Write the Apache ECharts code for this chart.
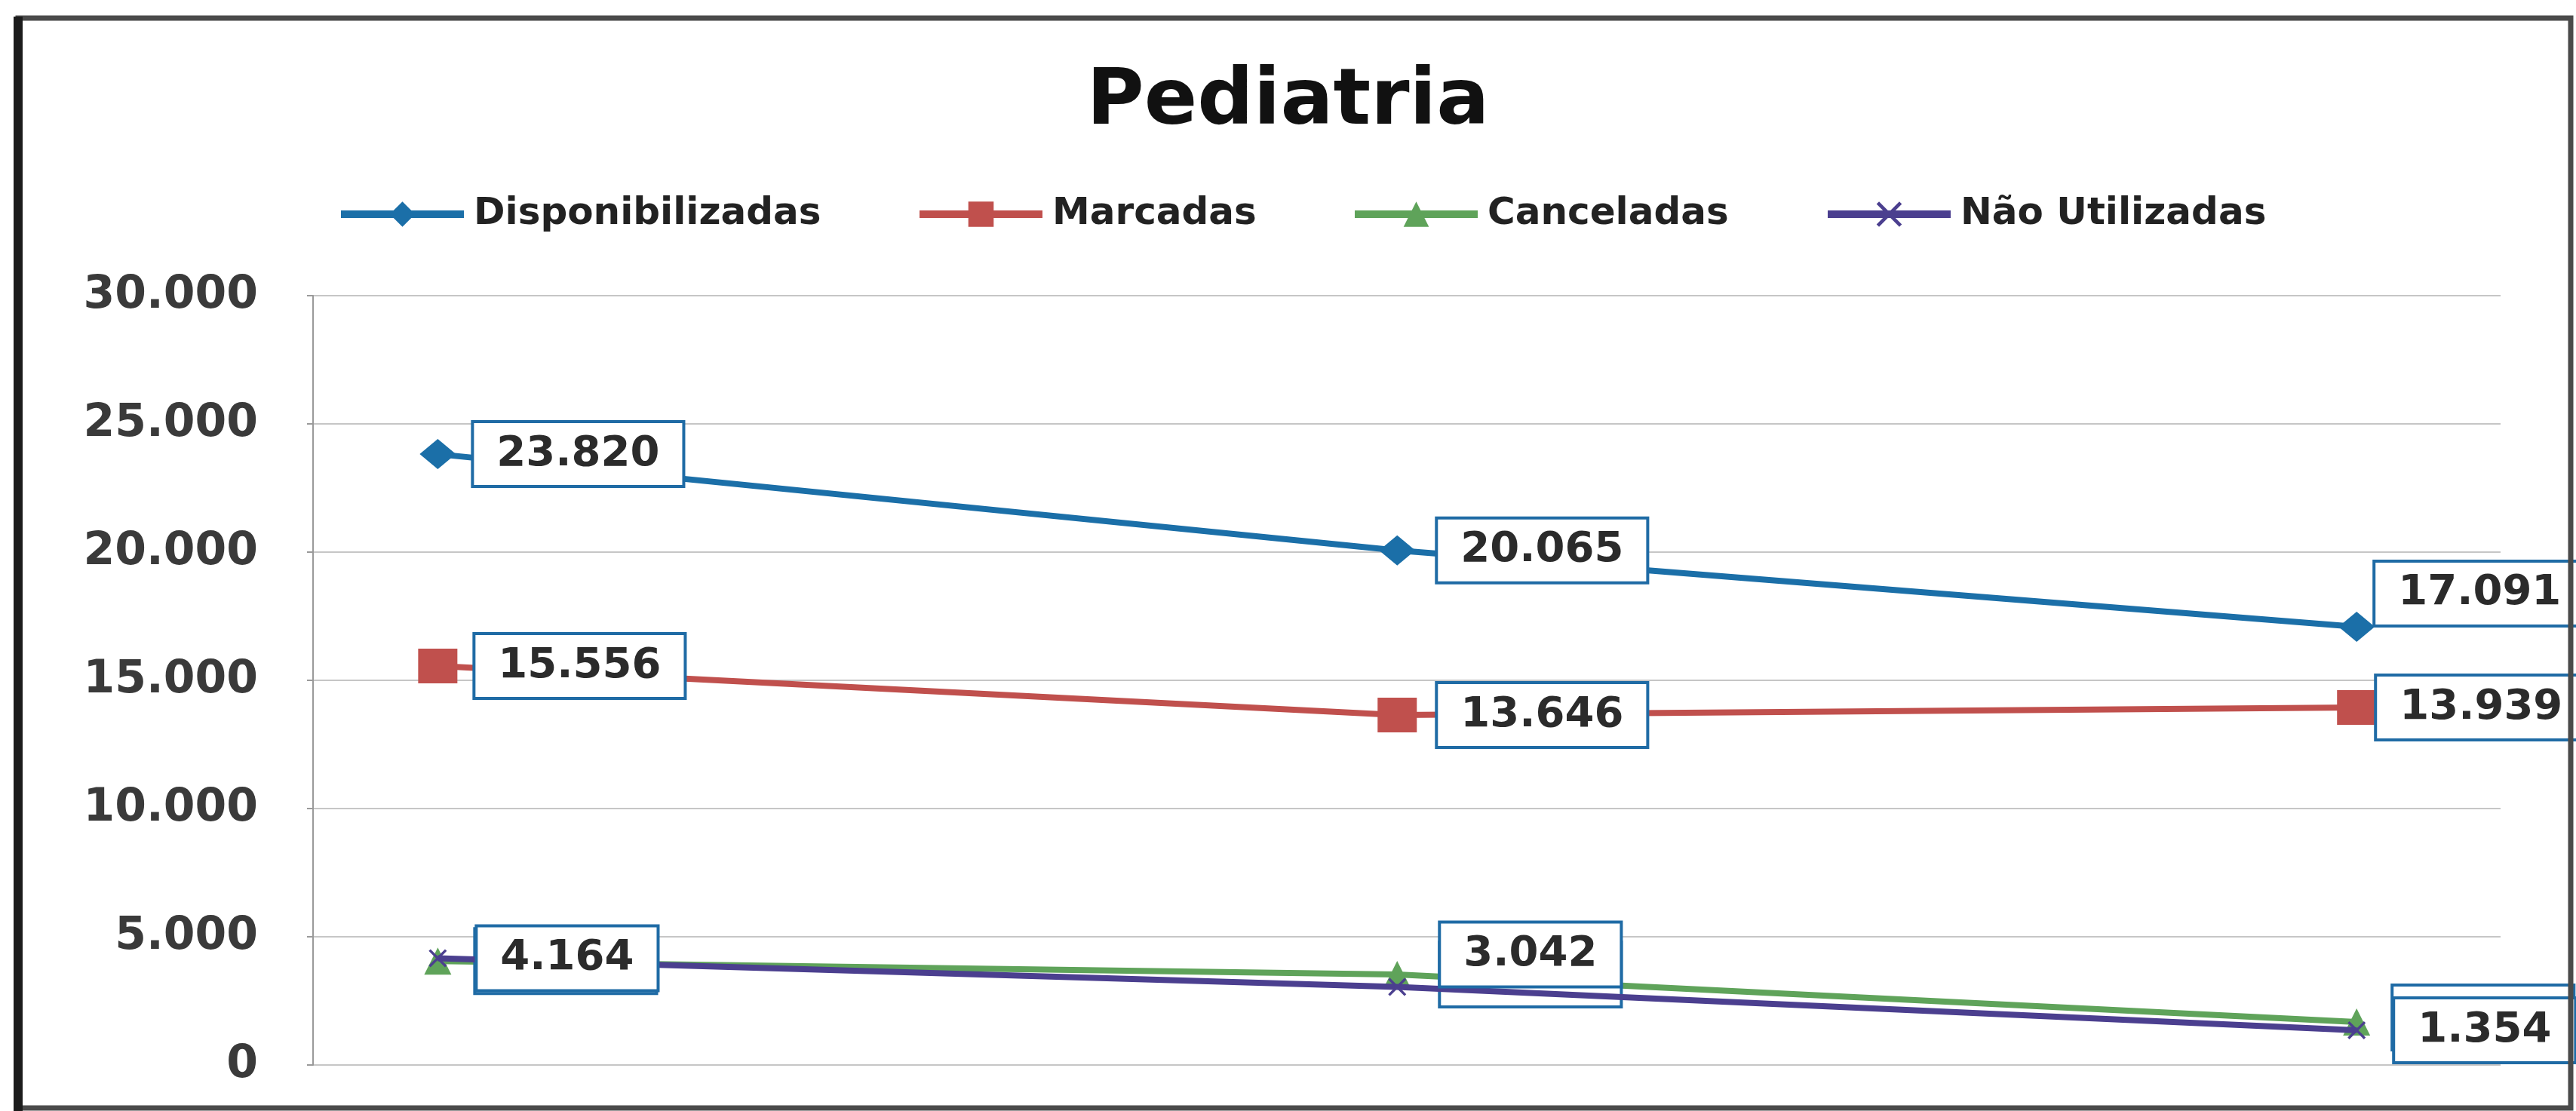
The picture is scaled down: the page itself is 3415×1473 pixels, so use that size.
<!DOCTYPE html>
<html>
<head>
<meta charset="utf-8">
<title>Pediatria</title>
<script src="https://cdn.jsdelivr.net/npm/echarts@6/dist/echarts.min.js"></script>
<style>
  html, body { margin: 0; padding: 0; background: #ffffff; }
  #chart { width: 3415px; height: 1473px; }
</style>
</head>
<body>
<div id="chart"></div>
<script>
// Three consecutive periods, placed on a numeric x scale
const periodos = [0, 1, 2];

// Consultas de pediatria por situação
const disponibilizadas = [23820, 20065, 17091];
const marcadas = [15556, 13646, 13939];
const canceladas = [4050, 3530, 1680];
const naoUtilizadas = [4164, 3042, 1354];

const nomesSeries = ['Disponibilizadas', 'Marcadas', 'Canceladas', 'Não Utilizadas'];
const yTickLabels = ['0', '5.000', '10.000', '15.000', '20.000', '25.000', '30.000'];

// Brazilian thousands separator
function fmt(v) {
  return String(Math.round(v)).replace(/\B(?=(\d{3})+(?!\d))/g, '.');
}

const FONT = 'DejaVu Sans';
const cores = ['#1B6FA8', '#C0504D', '#5FA35A', '#4B3F8F'];

// Callout placement for each point: [distance from symbol, vertical offset]
const calloutDisp = [[24, 0], [30, 0], [1, -44]];
const calloutMarc = [[24, 0], [28, 0], [1, 0]];
const calloutCanc = [[33, 0], [40, 0], [31, -6]];
const calloutNaoU = [[41, 0], [46, -43], [39, 0]];

const labelBase = {
  show: true,
  position: 'right',
  formatter: p => fmt(p.value[1]),
  fontFamily: FONT,
  fontSize: 56,
  fontWeight: 'bold',
  lineHeight: 60,
  color: '#2b2b2b',
  backgroundColor: '#ffffff',
  borderColor: '#1F6BA5',
  borderWidth: 4,
  padding: [11, 30, 11, 30]
};

function pontos(valores, callouts) {
  return valores.map((v, i) => ({
    value: [periodos[i], v],
    label: { distance: callouts[i][0], offset: [0, callouts[i][1]] }
  }));
}

// Small "x" cross used as the marker of the fourth series
const xMarker = 'path://M0,2 L2,0 L10,8 L18,0 L20,2 L12,10 L20,18 L18,20 L10,12 L2,20 L0,18 L8,10 Z';

const simbolos = ['diamond', 'rect', 'triangle', xMarker];
const tamanhos = [[48, 40], [52, 46], [36, 36], [24, 24]];
const valoresSeries = [disponibilizadas, marcadas, canceladas, naoUtilizadas];
const callouts = [calloutDisp, calloutMarc, calloutCanc, calloutNaoU];

const series = nomesSeries.map((nome, s) => ({
  name: nome,
  type: 'line',
  data: pontos(valoresSeries[s], callouts[s]),
  symbol: simbolos[s],
  symbolSize: tamanhos[s],
  showAllSymbol: true,
  lineStyle: { color: cores[s], width: 8 },
  itemStyle: { color: cores[s] },
  label: labelBase,
  emphasis: { disabled: true },
  animation: false,
  z: 2 + s
}));

// One legend block per series so each entry sits at its own spot
const legendLeft = [442, 1209, 1786, 2413];
const legends = nomesSeries.map((nome, s) => ({
  data: [{ name: nome, itemStyle: { color: cores[s] } }],
  left: legendLeft[s],
  top: 252,
  itemWidth: 163,
  itemHeight: 42,
  selectedMode: false,
  lineStyle: { width: 10, color: cores[s] },
  textStyle: {
    fontFamily: FONT,
    fontSize: 50,
    fontWeight: 'bold',
    color: '#222',
    lineHeight: 54,
    padding: [0, 0, 0, 8]
  }
}));

const chart = echarts.init(document.getElementById('chart'), null, { renderer: 'canvas' });

chart.setOption({
  backgroundColor: '#ffffff',
  animation: false,
  title: {
    text: 'Pediatria',
    left: 'center',
    top: 80,
    textStyle: {
      fontFamily: FONT,
      fontSize: 104,
      fontWeight: 'bold',
      color: '#111',
      lineHeight: 104
    }
  },
  legend: legends,
  grid: { left: 415, right: 100, top: 392, bottom: 61, containLabel: false },
  xAxis: {
    type: 'value',
    min: -0.13,
    max: 2.15,
    axisLine: { show: false },
    axisTick: { show: false },
    axisLabel: { show: false },
    splitLine: { show: false }
  },
  yAxis: {
    type: 'value',
    min: 0,
    max: 30000,
    interval: 5000,
    axisLine: { show: true, onZero: false, lineStyle: { color: '#9a9a9a', width: 2 } },
    axisTick: { show: true, length: 8, lineStyle: { color: '#9a9a9a', width: 2 } },
    axisLabel: {
      margin: 73,
      fontFamily: FONT,
      fontSize: 60,
      fontWeight: 'bold',
      color: '#3a3a3a',
      formatter: v => yTickLabels[Math.round(v / 5000)]
    },
    splitLine: { show: true, lineStyle: { color: '#c6c6c6', width: 2 } }
  },
  graphic: [
    {
      type: 'rect',
      shape: { x: 24, y: 24, width: 3384, height: 1445 },
      style: { fill: 'none', stroke: '#4a4a4a', lineWidth: 7 },
      silent: true,
      z: 100
    },
    {
      type: 'line',
      shape: { x1: 24, y1: 22, x2: 24, y2: 1473 },
      style: { stroke: '#1c1c1c', lineWidth: 12 },
      silent: true,
      z: 101
    }
  ],
  series: series
});
</script>
</body>
</html>
